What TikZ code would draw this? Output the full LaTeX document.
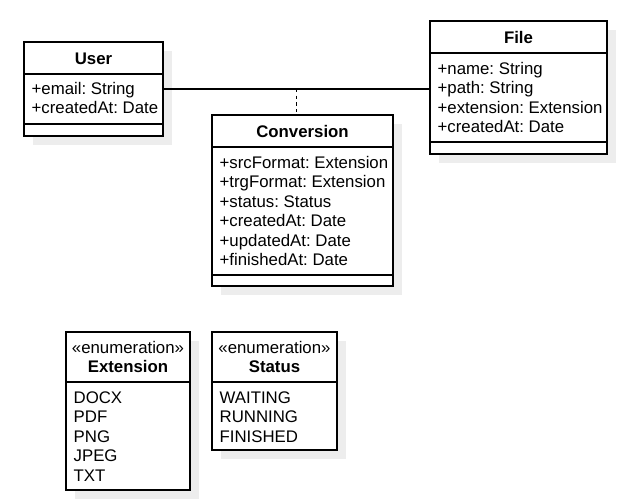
\documentclass[tikz,border=0pt]{standalone}
\usepackage{fontspec}
\setmainfont{Liberation Sans}
\usetikzlibrary{fit,shadows}
\frenchspacing

\begin{document}
\begin{tikzpicture}[x=0.75pt, y=-0.75pt, line width=1pt,
		font=\fontsize{12.6pt}{14.7pt}\selectfont,
		classbox/.style={
			draw, fill=white, inner sep=0pt,
			drop shadow={shadow xshift=6.4pt, shadow yshift=-6.4pt,
				fill=black!7, opacity=1}},
		classname/.style={anchor=base, inner sep=0pt, font=\fontsize{12.6pt}{14.7pt}\selectfont\bfseries},
		stereo/.style={anchor=base, inner sep=0pt},
		member/.style={anchor=base west, inner sep=0pt},
		linkdash/.style={dash pattern=on 2.5pt off 2.5pt}]
	\useasboundingbox (0,0) rectangle (637,504);
	% User
	\node[classbox, fit={(24,42) (163,136)}] (user) {};
	\draw (24,74) -- (163,74) (24,124) -- (163,124);
	\node[classname] (user-name) at (93.5,64) {User};
	\foreach \m [count=\i] in {+email: String, +createdAt: Date}
		\node[member] (user-\i) at (31,{94+19.6*(\i-1)}) {\m};
	% File
	\node[classbox, fit={(430,21) (607,154)}] (file) {};
	\draw (430,53) -- (607,53) (430,142) -- (607,142);
	\node[classname] (file-name) at (518.5,43) {File};
	\foreach \m [count=\i] in {+name: String, +path: String, +extension: Extension, +createdAt: Date}
		\node[member] (file-\i) at (437,{74+19.6*(\i-1)}) {\m};
	% Conversion
	\node[classbox, fit={(212,115) (393,286)}] (conversion) {};
	\draw (212,147) -- (393,147) (212,275) -- (393,275);
	\node[classname] (conversion-name) at (302.5,137) {Conversion};
	\foreach \m [count=\i] in {+srcFormat: Extension, +trgFormat: Extension, +status: Status,
			+createdAt: Date, +updatedAt: Date, +finishedAt: Date}
		\node[member] (conversion-\i) at (219,{168+19.5*(\i-1)}) {\m};
	% enumerations
	\node[classbox, fit={(66,332) (190,490)}] (extension) {};
	\draw (66,382) -- (190,382);
	\node[stereo] (extension-stereo) at (128,353) {«enumeration»};
	\node[classname] (extension-name) at (128,372) {Extension};
	\foreach \m [count=\i] in {DOCX, PDF, PNG, JPEG, TXT}
		\node[member] (extension-\i) at (73,{403+19.6*(\i-1)}) {\m};
	\node[classbox, fit={(212,332) (337,450)}] (status) {};
	\draw (212,382) -- (337,382);
	\node[stereo] (status-stereo) at (274.5,353) {«enumeration»};
	\node[classname] (status-name) at (274.5,372) {Status};
	\foreach \m [count=\i] in {WAITING, RUNNING, FINISHED}
		\node[member] (status-\i) at (219,{403+19.6*(\i-1)}) {\m};
	% associations
	\draw (user.east) -- coordinate[midway] (assoc) (user.east -| file.west);
	\draw[linkdash] (assoc) -- (assoc |- conversion.north);
\end{tikzpicture}
\end{document}
